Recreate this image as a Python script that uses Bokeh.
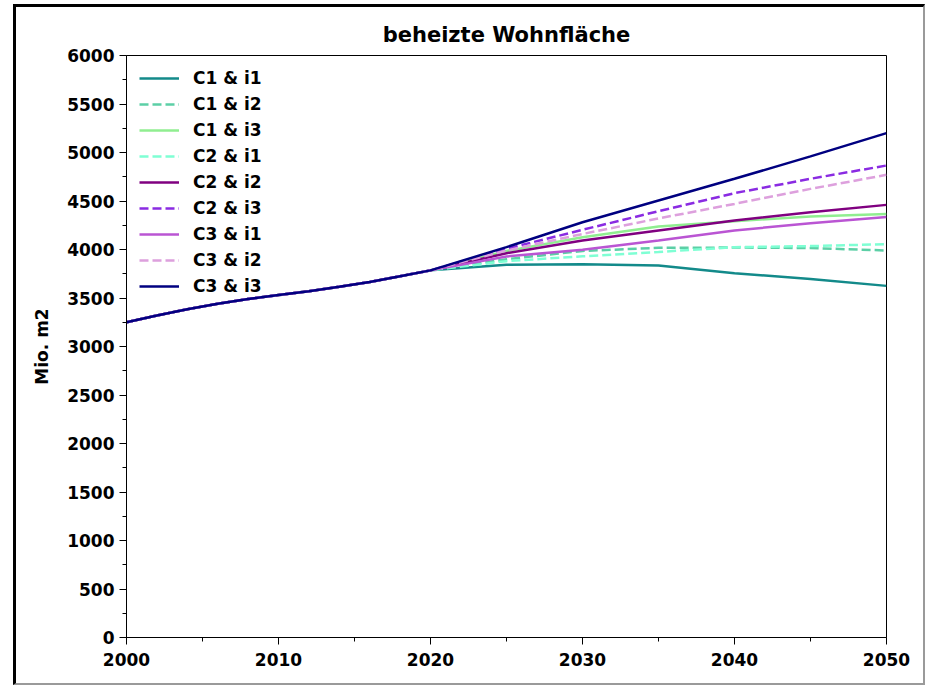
from bokeh.plotting import figure
from bokeh.models import FixedTicker, Legend, LegendItem, Range1d
from bokeh.embed import file_html
from bokeh.resources import INLINE

# ---- data ----
hist_years = [2000, 2002, 2004, 2006, 2008, 2010, 2012, 2014, 2016, 2018, 2020]
hist_values = [3250, 3320, 3385, 3440, 3490, 3530, 3570, 3615, 3665, 3725, 3785]

scen_years = [2025, 2030, 2035, 2040, 2045, 2050]

series_names = ["C1 & i1", "C1 & i2", "C1 & i3", "C2 & i1", "C2 & i2",
                "C2 & i3", "C3 & i1", "C3 & i2", "C3 & i3"]
c1_i1 = [3842, 3848, 3835, 3755, 3695, 3625]
c1_i2 = [3900, 3985, 4017, 4020, 4015, 3990]
c1_i3 = [3985, 4127, 4237, 4292, 4340, 4365]
c2_i1 = [3880, 3930, 3975, 4024, 4035, 4055]
c2_i2 = [3962, 4093, 4196, 4299, 4385, 4460]
c2_i3 = [4007, 4203, 4395, 4581, 4729, 4866]
c3_i1 = [3928, 3997, 4093, 4196, 4271, 4335]
c3_i2 = [3990, 4160, 4320, 4470, 4625, 4770]
c3_i3 = [4024, 4281, 4505, 4729, 4960, 5200]
series_values = [c1_i1, c1_i2, c1_i3, c2_i1, c2_i2, c2_i3, c3_i1, c3_i2, c3_i3]

colors = ["#138a8a", "#5ccfa6", "#90ee90", "#7fffd4", "#800080",
          "#8a2be2", "#ba55d3", "#dda0dd", "#000080"]
dashes = ["solid", "9 4", "solid", "9 4", "solid", "9 4", "solid", "9 4", "solid"]

x_ticks = [2000, 2010, 2020, 2030, 2040, 2050]
x_minor = [2005, 2015, 2025, 2035, 2045]
y_ticks = list(range(0, 6001, 500))
y_minor = list(range(250, 6000, 500))

FONT = "DejaVu Sans"

p = figure(width=912, height=681,
           x_range=Range1d(2000, 2050), y_range=Range1d(0, 6000),
           output_backend="svg", toolbar_location=None,
           title="beheizte Wohnfläche",
           min_border_left=110, min_border_right=42,
           min_border_top=48, min_border_bottom=51)
p.styles = {"position": "relative", "left": "13px", "top": "4px",
            "border-left": "3px solid black", "border-top": "3px solid black",
            "border-right": "2px solid #9a9a9a", "border-bottom": "2px solid #9a9a9a"}

p.title.text_font = FONT
p.title.text_font_style = "bold"
p.title.text_font_size = "21px"
p.title.align = "center"
p.title.text_color = "black"
p.title.standoff = 17

p.grid.visible = False
p.outline_line_color = "black"
p.outline_line_alpha = 1
p.outline_line_width = 1

for ax in (p.xaxis[0], p.yaxis[0]):
    ax.major_label_text_font = FONT
    ax.major_label_text_font_style = "bold"
    ax.major_label_text_font_size = "17px"
    ax.major_label_text_color = "black"
    ax.axis_line_color = "black"
    ax.major_tick_line_color = "black"
    ax.minor_tick_line_color = "black"
    ax.major_tick_out = 7
    ax.major_tick_in = 0
    ax.minor_tick_out = 4
    ax.minor_tick_in = 0
    ax.major_label_standoff = 5
p.xaxis[0].major_label_standoff = 8

p.xaxis[0].ticker = FixedTicker(ticks=x_ticks, minor_ticks=x_minor)
p.yaxis[0].ticker = FixedTicker(ticks=y_ticks, minor_ticks=y_minor)

p.yaxis[0].axis_label = "Mio. m2"
p.yaxis[0].axis_label_text_font = FONT
p.yaxis[0].axis_label_text_font_style = "bold"
p.yaxis[0].axis_label_text_font_size = "17px"
p.yaxis[0].axis_label_text_color = "black"
p.yaxis[0].axis_label_standoff = 12

items = []
for name, vals, col, dash in zip(series_names, series_values, colors, dashes):
    xs = hist_years + scen_years
    ys = hist_values + vals
    r = p.line(xs, ys, line_color=col, line_width=2.5, line_dash=dash)
    items.append(LegendItem(label=name, renderers=[r]))

legend = Legend(items=items, location="top_left")
legend.label_text_font = FONT
legend.label_text_font_style = "bold"
legend.label_text_font_size = "17px"
legend.label_text_color = "black"
legend.border_line_alpha = 0
legend.background_fill_alpha = 0
legend.glyph_width = 40
legend.glyph_height = 20
legend.label_height = 20
legend.label_standoff = 14
legend.spacing = 6
legend.padding = 10
legend.margin = 3
p.add_layout(legend)

open("out.html", "w").write(file_html(p, INLINE))
